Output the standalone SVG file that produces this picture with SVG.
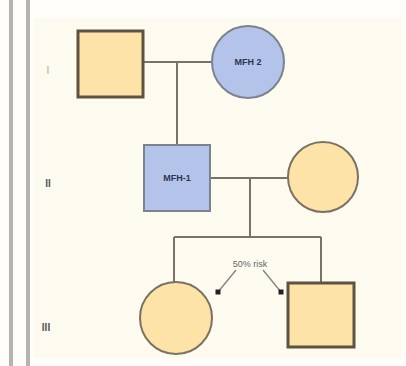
<svg xmlns="http://www.w3.org/2000/svg" width="406" height="366" viewBox="0 0 406 366">
<defs>
<style>
.male{fill:#fde3a7;stroke:#5e5240;stroke-width:3}
.female{fill:#fde3a7;stroke:#7a7262;stroke-width:2}
.aff{fill:#b4c3ea;stroke:#7b8290;stroke-width:2}
.line{stroke:#7a7262;stroke-width:2;fill:none}
.thin{stroke:#8a8a84;stroke-width:1.5;fill:none}
.lbl{font-family:"Liberation Sans",Arial,sans-serif;font-size:9px;font-weight:bold;fill:#2c3550;text-anchor:middle}
.gen{font-family:"Liberation Sans",Arial,sans-serif;font-size:10px;font-weight:bold;fill:#555;text-anchor:middle}
.risk{font-family:"Liberation Sans",Arial,sans-serif;font-size:9px;fill:#666;text-anchor:middle}
</style>
</defs>
<rect width="406" height="366" fill="#fffefa"/>
<rect x="34" y="18" width="368" height="340" fill="#fdfaef"/>
<rect x="9" y="0" width="4" height="366" fill="#b5b5b0"/>
<rect x="26" y="0" width="4" height="366" fill="#b5b5b0"/>
<g id="generations">
<text class="gen" x="48" y="74" fill-opacity="0.6" style="fill:#999">I</text>
<text class="gen" x="48" y="187">II</text>
<text class="gen" x="46" y="331">III</text>
</g>
<g id="connectors">
<line class="line" x1="143" y1="62" x2="212" y2="62"/>
<line class="line" x1="177" y1="62" x2="177" y2="145"/>
<line class="line" x1="210" y1="178" x2="288" y2="178"/>
<line class="line" x1="250" y1="178" x2="250" y2="237"/>
<line class="line" x1="174" y1="237" x2="321" y2="237"/>
<line class="line" x1="174" y1="237" x2="174" y2="282"/>
<line class="line" x1="321" y1="237" x2="321" y2="282"/>
<line class="thin" x1="236" y1="270" x2="218" y2="292"/>
<line class="thin" x1="263" y1="270" x2="281" y2="292"/>
<rect x="215.5" y="289.5" width="5" height="5" fill="#222"/>
<rect x="278.5" y="289.5" width="5" height="5" fill="#222"/>
<text class="risk" x="250" y="267">50% risk</text>
</g>
<g id="I-1"><rect class="male" x="78" y="31" width="65" height="66"/></g>
<g id="I-2"><circle class="aff" cx="248" cy="62" r="36"/><text class="lbl" x="248" y="65">MFH 2</text></g>
<g id="II-1"><rect class="aff" x="144" y="145" width="66" height="66"/><text class="lbl" x="177" y="181">MFH-1</text></g>
<g id="II-2"><circle class="female" cx="323" cy="177" r="35"/></g>
<g id="III-1"><circle class="female" cx="176" cy="318" r="36"/></g>
<g id="III-2"><rect class="male" x="288" y="283" width="66" height="64"/></g>
</svg>
